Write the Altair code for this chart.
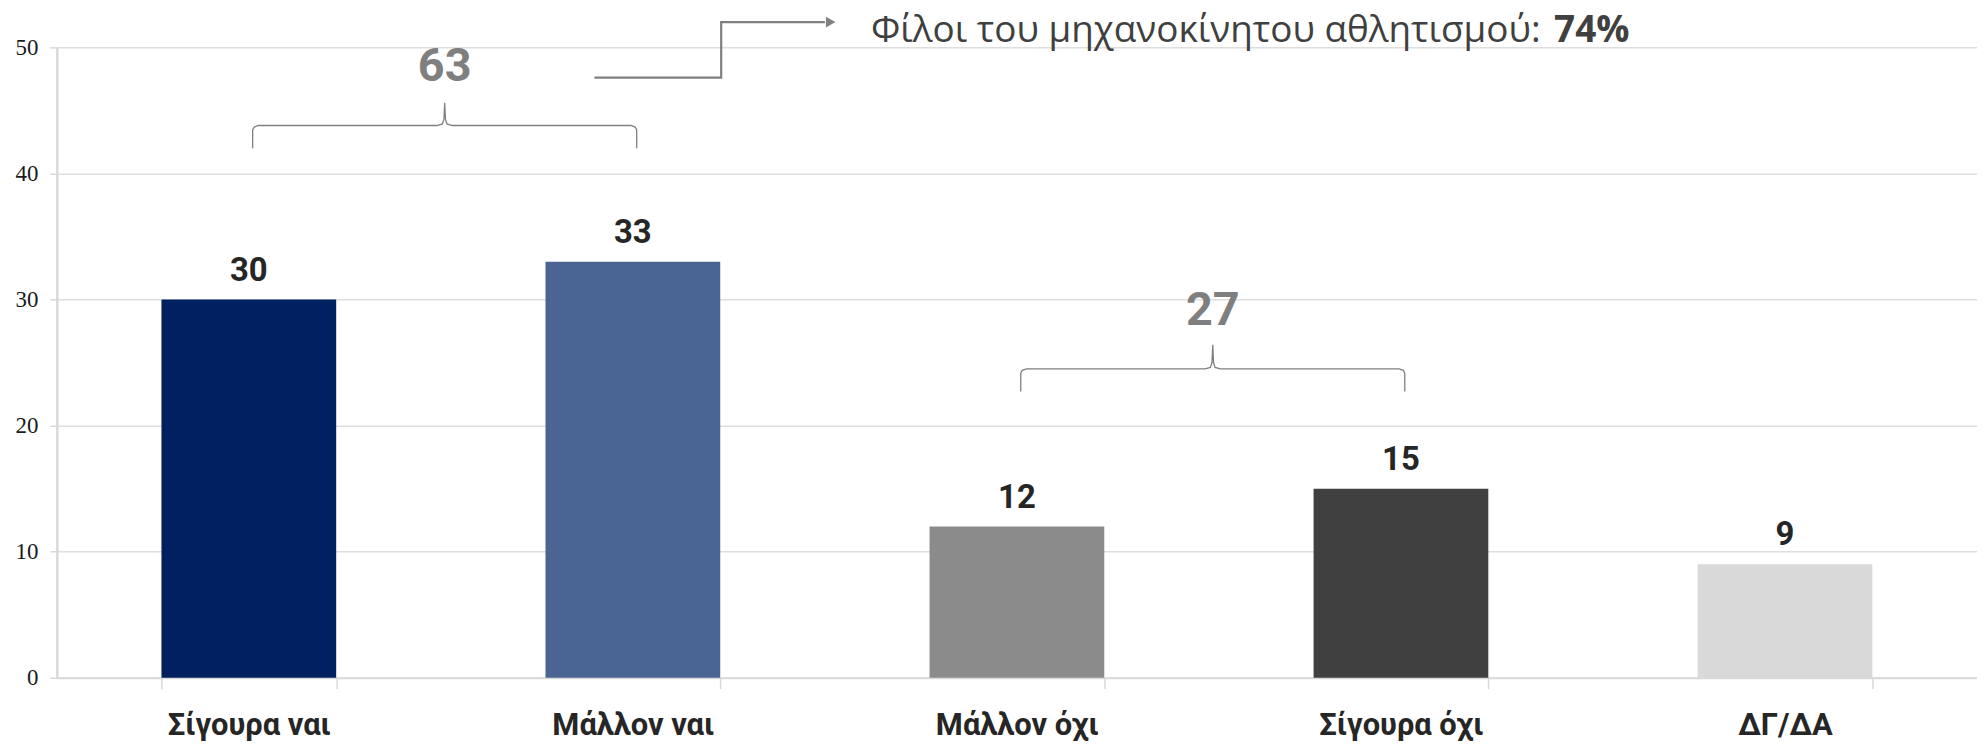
import altair as alt
import pandas as pd

categories = ["Σίγουρα ναι", "Μάλλον ναι", "Μάλλον όχι", "Σίγουρα όχι", "ΔΓ/ΔΑ"]
values = [30, 33, 12, 15, 9]
colors = ["#002060", "#4a6591", "#8b8b8b", "#404040", "#d9d9d9"]
y_ticks = [0, 10, 20, 30, 40, 50]

# bracket groups (totals of adjacent answers)
group_totals = [63, 27]
group_first = [0, 2]      # index of first category in group
group_last = [1, 3]       # index of last category in group
group_end_y = [42.0, 22.7]
group_bar_y = [43.8, 24.5]
group_tip_y = [45.6, 26.4]
group_label_y = [48.4, 29.1]

# arrow annotation
arrow_x = [1.40, 1.73, 1.73, 2.00]
arrow_y = [47.6, 47.6, 52.0, 52.0]
note_text = "Φίλοι του μηχανοκίνητου αθλητισμού: "
note_bold = "74%"
note_x = 2.12
note_bold_x = 4.095
note_y = 51.27

FONT_LBL = "Roboto"

bars_df = pd.DataFrame({"cat": categories, "value": values})

# bracket polylines
rows = []
for g, (tot, a, b, ye, yb, yt) in enumerate(zip(group_totals, group_first, group_last,
                                                 group_end_y, group_bar_y, group_tip_y)):
    L = a + 0.51
    R = b + 0.51
    M = (L + R) / 2
    pts = [
        (L, ye), (L, yb - 0.35), (L + 0.004, yb - 0.12), (L + 0.015, yb),
        (M - 0.02, yb), (M - 0.006, yb + 0.12), (M - 0.002, yb + 0.5), (M, yt),
        (M + 0.002, yb + 0.5), (M + 0.006, yb + 0.12), (M + 0.02, yb),
        (R - 0.015, yb), (R - 0.004, yb - 0.12), (R, yb - 0.35), (R, ye),
    ]
    for i, (px, py) in enumerate(pts):
        rows.append({"g": g, "i": i, "bx": px, "by": py})
brace_df = pd.DataFrame(rows)

glabel_df = pd.DataFrame({
    "gx": [(a + b) / 2 + 0.51 for a, b in zip(group_first, group_last)],
    "gy": group_label_y,
    "t": [str(t) for t in group_totals],
})

arrow_df = pd.DataFrame({"ax": arrow_x, "ay": arrow_y, "i": list(range(len(arrow_x)))})
head_df = pd.DataFrame({"ax": [arrow_x[-1] + 0.015], "ay": [arrow_y[-1]]})
note_df = pd.DataFrame({"nx": [note_x], "ny": [note_y], "t": [note_text]})
noteb_df = pd.DataFrame({"nx": [note_bold_x], "ny": [note_y], "t": [note_bold]})

yscale = alt.Scale(domain=[0, 50], nice=False)
qx = alt.Scale(domain=[0, 5], nice=False, zero=False)
xband = alt.Scale(paddingInner=0.545, paddingOuter=0.2725)

yaxis = alt.Axis(values=y_ticks, labelFont="Liberation Serif", labelFontSize=23,
                 labelColor="#1a1a1a", tickSize=7, tickColor="#d9d9d9", tickWidth=1.5,
                 domainColor="#d9d9d9", domainWidth=2.5, gridColor="#dedede",
                 gridWidth=1.5, labelPadding=12, title=None)


def ych(field):
    return alt.Y(field, scale=yscale, title=None, axis=yaxis)


bars = alt.Chart(bars_df).mark_bar().encode(
    x=alt.X("cat:N", sort=categories, scale=xband, title=None,
            axis=alt.Axis(labelAngle=0, labelFont=FONT_LBL, labelFontSize=31,
                          labelFontWeight="bold", labelColor="#262626",
                          tickBand="extent", tickSize=11, tickColor="#d9d9d9",
                          tickWidth=1.5, domainColor="#d9d9d9", domainWidth=2,
                          labelPadding=22, grid=False)),
    y=ych("value:Q"),
    color=alt.Color("cat:N", scale=alt.Scale(domain=categories, range=colors), legend=None),
)

labels = alt.Chart(bars_df).mark_text(
    font=FONT_LBL, fontSize=33, fontWeight="bold", color="#262626",
    baseline="alphabetic", dy=-19,
).encode(
    x=alt.X("cat:N", sort=categories, scale=xband, axis=None),
    y=ych("value:Q"),
    text=alt.Text("value:Q"),
)

braces = alt.Chart(brace_df).mark_line(color="#7f7f7f", strokeWidth=1.3).encode(
    x=alt.X("bx:Q", scale=qx, axis=None),
    y=ych("by:Q"),
    detail="g:N",
    order="i:Q",
)

glabels = alt.Chart(glabel_df).mark_text(
    font=FONT_LBL, fontSize=47, fontWeight="bold", color="#7f7f7f", baseline="middle",
).encode(
    x=alt.X("gx:Q", scale=qx, axis=None),
    y=ych("gy:Q"),
    text="t:N",
)

arrow = alt.Chart(arrow_df).mark_line(color="#7f7f7f", strokeWidth=2.2).encode(
    x=alt.X("ax:Q", scale=qx, axis=None),
    y=ych("ay:Q"),
    order="i:Q",
)

head = alt.Chart(head_df).mark_point(
    shape="triangle-right", filled=True, color="#7f7f7f", size=120, opacity=1,
).encode(
    x=alt.X("ax:Q", scale=qx, axis=None),
    y=ych("ay:Q"),
)

note = alt.Chart(note_df).mark_text(
    font="Open Sans", fontSize=37, color="#404040", align="left", baseline="middle",
).encode(
    x=alt.X("nx:Q", scale=qx, axis=None),
    y=ych("ny:Q"),
    text="t:N",
)

noteb = alt.Chart(noteb_df).mark_text(
    font="Open Sans", fontSize=37, fontWeight="bold", color="#404040", align="right",
    baseline="middle",
).encode(
    x=alt.X("nx:Q", scale=qx, axis=None),
    y=ych("ny:Q"),
    text="t:N",
)

chart = alt.layer(bars, labels, braces, glabels, arrow, head, note, noteb).resolve_scale(
    x="independent"
).properties(
    width=1928, height=633,
    autosize=alt.AutoSizeParams(type="none"),
    padding={"left": 49, "top": 38, "right": 0, "bottom": 65},
    background="white",
).configure_view(stroke=None)

chart.save("out.html", embed_options={"renderer": "svg", "actions": False})
